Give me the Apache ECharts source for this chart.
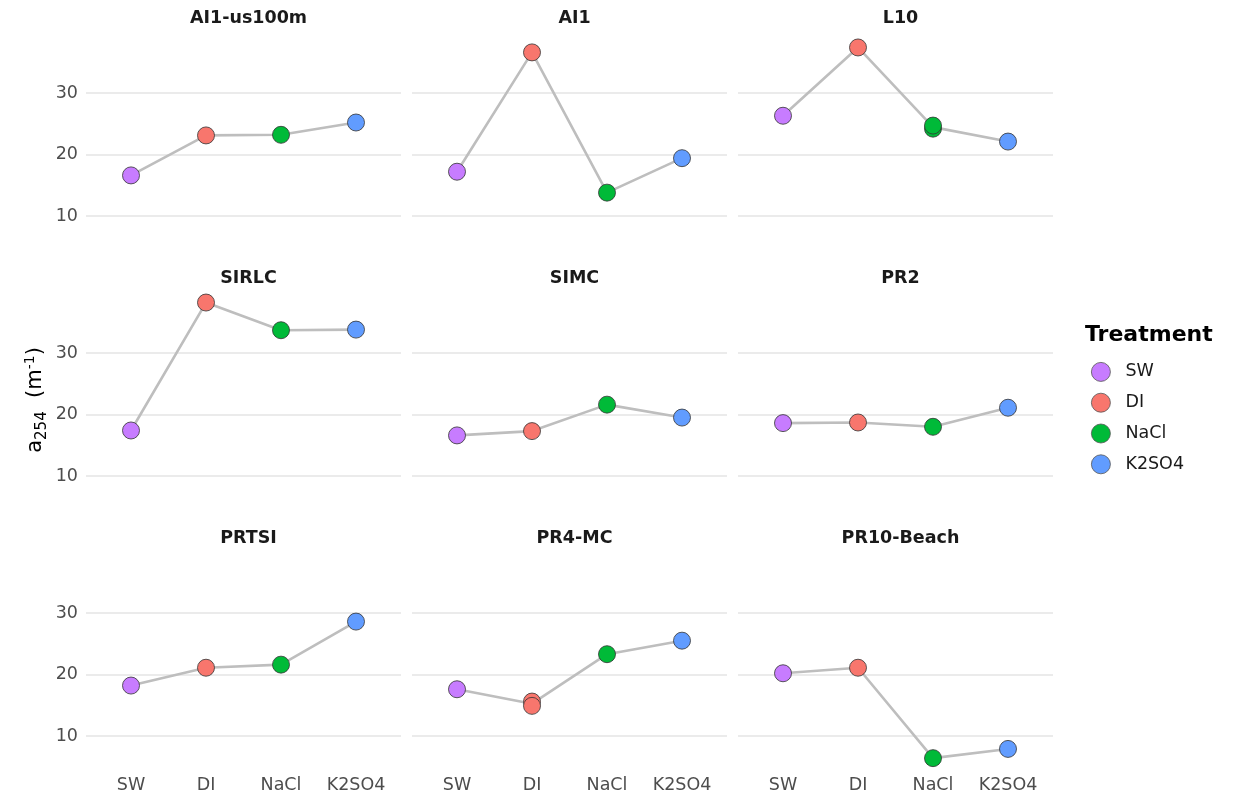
<!DOCTYPE html>
<html>
<head>
<meta charset="utf-8">
<script src="https://cdn.jsdelivr.net/npm/echarts@6/dist/echarts.min.js"></script>
<style>
  html, body { margin: 0; padding: 0; background: #ffffff; }
  #chart { width: 1243px; height: 796px; }
</style>
</head>
<body>
<div id="chart"></div>
<script>
// Sites shown as facets, in reading order
const panels = ['AI1-us100m', 'AI1', 'L10', 'SIRLC', 'SIMC', 'PR2', 'PRTSI', 'PR4-MC', 'PR10-Beach'];
const treatments = ['SW', 'DI', 'NaCl', 'K2SO4'];
const treatmentColors = ['#C77CFF', '#F8766D', '#00BA38', '#619CFF'];

// a254 (m^-1) replicate values per site, one array per treatment
const swVals   = [[16.6], [17.2], [26.3], [17.4], [16.6], [18.6], [18.2], [17.6], [20.2]];
const diVals   = [[23.1], [36.6], [37.4], [38.2], [17.3], [18.7], [21.1], [15.6, 14.9], [21.1]];
const naclVals = [[23.2], [13.8], [24.2, 24.7], [33.7], [21.6], [18.0], [21.6], [23.3], [6.4]];
const k2so4Vals = [[25.2], [19.4], [22.1], [33.8], [19.5], [21.1], [28.6], [25.5], [7.9]];

const yTicks = [10, 20, 30];
const yMin = 4.7, yMax = 39.8;

const valueSets = [swVals, diVals, naclVals, k2so4Vals];

const colLeft = [86, 412, 738];
const rowTop = [32.7, 292.7, 552.7];
const panelW = 315, panelH = 215.9;

const grids = [], xAxes = [], yAxes = [], series = [], titles = [];
const tickColor = '#4d4d4d';
const fontFamily = 'DejaVu Sans';

panels.forEach((name, p) => {
  const col = p % 3, row = Math.floor(p / 3);
  grids.push({ left: colLeft[col], top: rowTop[row], width: panelW, height: panelH });
  xAxes.push({
    type: 'value', gridIndex: p, min: -0.6, max: 3.6,
    axisLine: { show: false },
    axisTick: { show: false, customValues: [0, 1, 2, 3] },
    splitLine: { show: false },
    axisLabel: {
      show: row === 2, customValues: [0, 1, 2, 3],
      formatter: v => treatments[Math.round(v)] || '',
      color: tickColor, fontSize: 17.5, fontFamily, margin: 8
    }
  });
  yAxes.push({
    type: 'value', gridIndex: p, min: yMin, max: yMax,
    axisLine: { show: false },
    axisTick: { show: false, customValues: yTicks },
    splitLine: { show: true, lineStyle: { color: '#ebebeb', width: 2 } },
    axisLabel: {
      show: col === 0, customValues: yTicks,
      color: tickColor, fontSize: 17.5, fontFamily, margin: 8
    }
  });
  titles.push({
    text: name,
    left: colLeft[col] + panelW / 2, top: rowTop[row] - 28,
    textAlign: 'center',
    textStyle: { fontSize: 17.5, fontWeight: 'bold', color: '#1a1a1a', fontFamily }
  });

  // connecting line through the treatment means
  const means = valueSets.map((vs, t) => {
    const arr = vs[p];
    return [t, arr.reduce((a, b) => a + b, 0) / arr.length];
  });
  series.push({
    type: 'line', xAxisIndex: p, yAxisIndex: p, data: means,
    showSymbol: false, silent: true, z: 1,
    lineStyle: { color: '#bebebe', width: 2.6 }
  });

  treatments.forEach((tr, t) => {
    series.push({
      type: 'scatter', name: tr, xAxisIndex: p, yAxisIndex: p,
      data: valueSets[t][p].map(v => [t, v]),
      symbol: 'circle', symbolSize: 17, z: 3,
      itemStyle: { color: treatmentColors[t], borderColor: '#333333', borderWidth: 0.8, opacity: 1 }
    });
  });
});

const chart = echarts.init(document.getElementById('chart'), null, { renderer: 'canvas' });
chart.setOption({
  backgroundColor: '#ffffff',
  animation: false,
  title: titles,
  grid: grids,
  xAxis: xAxes,
  yAxis: yAxes,
  legend: {
    data: treatments,
    orient: 'vertical',
    left: 1091, top: 362, padding: 0,
    itemWidth: 19, itemHeight: 19, itemGap: 11,
    icon: 'circle',
    itemStyle: { borderColor: '#555555', borderWidth: 0.8 },
    textStyle: { fontSize: 17.5, color: '#1a1a1a', fontFamily, padding: [0, 0, 0, 10] },
    selectedMode: false
  },
  graphic: [
    {
      type: 'text', left: 1085, top: 324,
      style: { text: 'Treatment', fontSize: 22, fontWeight: 'bold', fill: '#000000', fontFamily }
    },
    {
      type: 'text', x: 36, y: 400, rotation: Math.PI / 2,
      style: {
        text: '{a|a}{s|254}{a|  (m}{p|-1}{a|)}',
        align: 'center', verticalAlign: 'middle',
        fill: '#000000', fontFamily,
        rich: {
          a: { fontSize: 21, fontFamily, fill: '#000000', lineHeight: 34, verticalAlign: 'middle' },
          s: { fontSize: 15, fontFamily, fill: '#000000', lineHeight: 34, padding: [12, 0, 0, 0], verticalAlign: 'middle' },
          p: { fontSize: 14, fontFamily, fill: '#000000', lineHeight: 34, padding: [0, 0, 12, 0], verticalAlign: 'middle' }
        }
      }
    }
  ],
  series: series
});
</script>
</body>
</html>
